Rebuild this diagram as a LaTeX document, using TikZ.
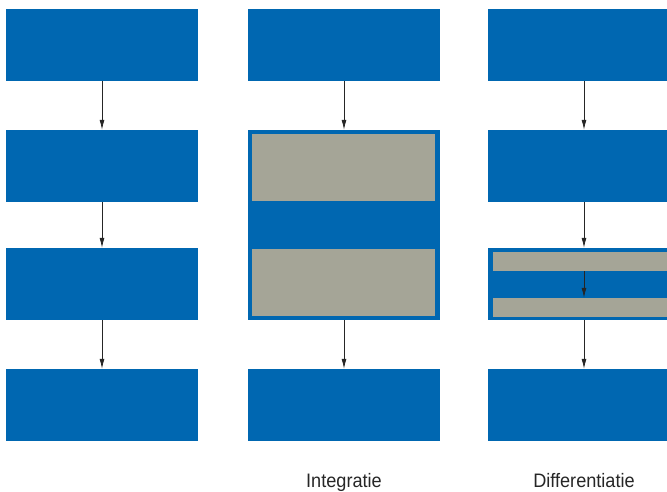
\documentclass[tikz,border=0pt]{standalone}
\usepackage{fontspec}
\setmainfont{Liberation Sans}
\newfontfamily\capfont[FakeStretch=0.93]{Liberation Sans}
\usetikzlibrary{calc,arrows.meta}
\definecolor{StepBlue}{RGB}{0,103,177}
\definecolor{StepGrey}{RGB}{165,165,151}
\def\StepBlue{StepBlue}
\def\StepGrey{StepGrey}
\begin{document}
\begin{tikzpicture}
    [x=1pt,y=-1pt,
    stage/.style={rectangle,fill=\StepBlue,inner sep=0pt,minimum width=192pt,minimum height=72pt},
    part/.style={rectangle,fill=\StepGrey,inner sep=0pt},
    caption/.style={font=\capfont\fontsize{19.5}{22}\selectfont,text=black!85,anchor=base,inner sep=0pt},
    ]
    \useasboundingbox (0,0) rectangle (667,492);
    % left column
    \node[stage] (a1) at (102,45) {};
    \node[stage] (a2) at (102,166) {};
    \node[stage] (a3) at (102,284) {};
    \node[stage] (a4) at (102,405) {};
    % integration
    \node[stage] (b1) at (344,45) {};
    \node[stage,minimum height=190pt] (b23) at (344,225) {};
    \node[part,minimum width=183pt,minimum height=67pt] (b2) at (343.5,167.5) {};
    \node[part,minimum width=183pt,minimum height=67pt] (b3) at (343.5,282.5) {};
    \node[stage] (b4) at (344,405) {};
    % differentiation
    \node[stage] (c1) at (584,45) {};
    \node[stage] (c2) at (584,166) {};
    \node[stage] (c3) at (584,284) {};
    \node[part,minimum width=182pt,minimum height=19pt] (s1) at (584,261.5) {};
    \node[part,minimum width=182pt,minimum height=19pt] (s2) at (584,307.5) {};
    \node[stage] (c4) at (584,405) {};
    \path[-{Latex[length=10pt,width=5pt]}, line width=0.8pt, black!85]
    (a1) edge (a2) (a2) edge (a3) (a3) edge (a4)
    (b1) edge (b23) (b23) edge (b4)
    (c1) edge (c2) (c2) edge (c3) (s1) edge (s2) (c3) edge (c4);
    \node[caption] (int) at (344,487) {Integratie};
    \node[caption] (diff) at (584,487) {Differentiatie};
  \end{tikzpicture}
\end{document}
